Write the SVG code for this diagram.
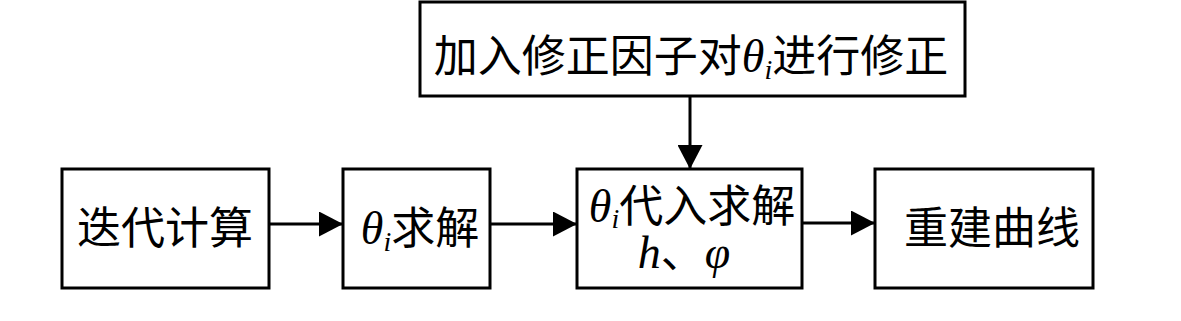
<svg xmlns="http://www.w3.org/2000/svg" width="1181" height="321" viewBox="0 0 1181 321">
<style>
.box{fill:#fff;stroke:#000;stroke-width:3}
.lbl{font-family:"Noto Sans CJK SC","Liberation Serif",serif;font-size:44px;fill:#000;text-anchor:middle}
.m{font-family:"Liberation Serif",serif;font-style:italic;font-size:46px}
.sub{font-family:"Liberation Serif",serif;font-style:italic;font-size:28px}
.con{stroke:#000;stroke-width:3;fill:none}
</style>
<defs>
<marker id="ah" markerWidth="24" markerHeight="25" refX="24" refY="12.5" orient="auto" markerUnits="userSpaceOnUse">
<path d="M0,0 L24,12.5 L0,25 Z" fill="#000"/>
</marker>
</defs>
<rect width="1181" height="321" fill="#fff"/>
<g id="node-correct">
<rect class="box" x="420" y="2" width="545" height="94"/>
<text class="lbl" x="691" y="72">加入修正因子对<tspan class="m">θ</tspan><tspan class="sub" dy="7">i</tspan><tspan dy="-7">进行修正</tspan></text>
</g>
<g id="node-iter">
<rect class="box" x="62" y="169" width="207" height="119"/>
<text class="lbl" x="165" y="244">迭代计算</text>
</g>
<g id="node-theta">
<rect class="box" x="343" y="169" width="147" height="119"/>
<text class="lbl" x="420" y="244"><tspan class="m">θ</tspan><tspan class="sub" dy="7">i</tspan><tspan dy="-7">求解</tspan></text>
</g>
<g id="node-sub">
<rect class="box" x="577" y="169" width="225" height="119"/>
<text class="lbl" x="692" y="222"><tspan class="m">θ</tspan><tspan class="sub" dy="6">i</tspan><tspan dy="-6">代入求解</tspan></text>
<text class="lbl" x="684" y="268"><tspan class="m">h</tspan>、<tspan class="m">φ</tspan></text>
</g>
<g id="node-rebuild">
<rect class="box" x="875" y="169" width="218" height="119"/>
<text class="lbl" x="992" y="244">重建曲线</text>
</g>
<g id="connectors">
<line class="con" x1="269" y1="224" x2="343" y2="224" marker-end="url(#ah)"/>
<line class="con" x1="490" y1="224" x2="577" y2="224" marker-end="url(#ah)"/>
<line class="con" x1="802" y1="223" x2="875" y2="223" marker-end="url(#ah)"/>
<line class="con" x1="690" y1="96" x2="690" y2="169" marker-end="url(#ah)"/>
</g>
</svg>
